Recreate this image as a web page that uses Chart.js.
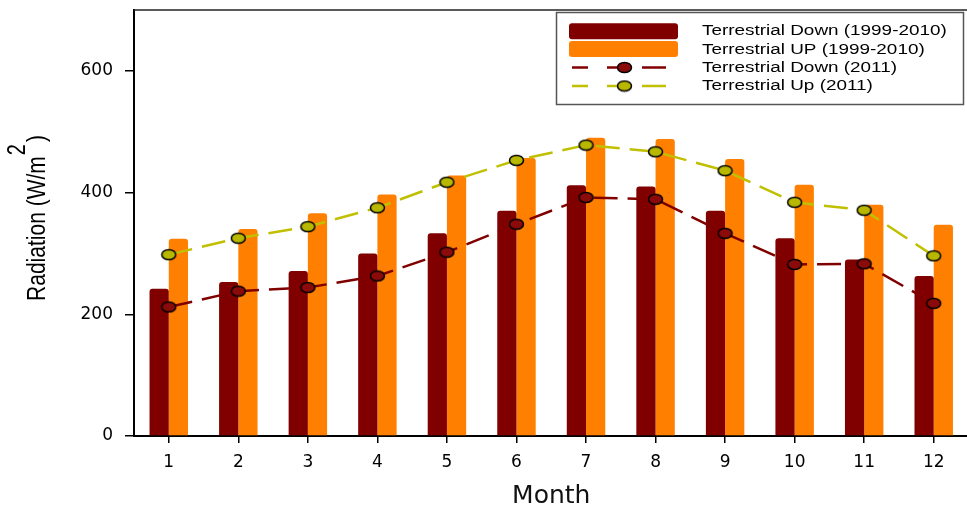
<!DOCTYPE html>
<html>
<head>
<meta charset="utf-8">
<title>Terrestrial radiation by month</title>
<script src="https://cdn.jsdelivr.net/npm/chart.js@4.4.1/dist/chart.umd.min.js"></script>
<style>
    html, body { margin: 0; padding: 0; background: #fff; overflow: hidden; }
    canvas { display: block; }
</style>
</head>
<body>
<canvas id="radiationChart" width="975" height="509"></canvas>
<script>
// Months on the x axis
const months = ['1', '2', '3', '4', '5', '6', '7', '8', '9', '10', '11', '12'];

// Monthly means 1999-2010 (bars)
const downMean = [242, 253, 271, 300, 333, 370, 412, 410, 370, 325, 290, 263];
const upMean = [324, 340, 366, 397, 428, 457, 490, 488, 455, 413, 380, 347];

// Year 2011 (dashed lines)
const down2011 = [212, 238, 244, 263, 302, 348, 392, 389, 333, 282, 283, 218];
const up2011 = [298, 325, 344, 375, 417, 453, 478, 467, 436, 384, 371, 296];

// Y axis ticks
const yTicks = [0, 200, 400, 600];

// Oval marker with black outline
function markerImage(fill) {
    const c = document.createElement('canvas');
    c.width = 17;
    c.height = 13;
    const g = c.getContext('2d');
    g.beginPath();
    g.ellipse(8.5, 6.5, 7, 5, 0, 0, Math.PI * 2);
    g.fillStyle = fill;
    g.fill();
    g.lineWidth = 1.5;
    g.strokeStyle = '#000';
    g.stroke();
    return c;
}

// Top frame line, y title and the boxed legend
const extras = {
    id: 'extras',
    afterDraw(chart) {
        const ctx = chart.ctx;
        const area = chart.chartArea;
        ctx.save();

        // top frame
        ctx.strokeStyle = '#222';
        ctx.lineWidth = 1.5;
        ctx.beginPath();
        ctx.moveTo(area.left, area.top);
        ctx.lineTo(chart.width, area.top);
        ctx.stroke();

        // y title with superscript
        const main = 'Radiation (W/m';
        ctx.save();
        ctx.translate(45, 218);
        ctx.rotate(-Math.PI / 2);
        ctx.scale(1, 1.25);
        ctx.fillStyle = '#000';
        ctx.textBaseline = 'alphabetic';
        ctx.font = '21px "Liberation Sans", Arial, sans-serif';
        const w1 = ctx.measureText(main).width;
        const w3 = ctx.measureText(')').width;
        ctx.font = '20px "Liberation Sans", Arial, sans-serif';
        const w2 = ctx.measureText('2').width + 3;
        let x = -(w1 + w2 + w3) / 2;
        ctx.font = '21px "Liberation Sans", Arial, sans-serif';
        ctx.fillText(main, x, 0);
        x += w1 + 1;
        ctx.font = '20px "Liberation Sans", Arial, sans-serif';
        ctx.fillText('2', x, -16);
        x += w2 - 1;
        ctx.font = '21px "Liberation Sans", Arial, sans-serif';
        ctx.fillText(')', x, 0);
        ctx.restore();

        // legend box
        ctx.fillStyle = '#fff';
        ctx.fillRect(556, 12, 407, 92);
        ctx.strokeStyle = '#555';
        ctx.lineWidth = 1.5;
        ctx.strokeRect(556.5, 12.5, 407, 92);

        const textRows = [31.5, 50, 68, 86.5];
        const symRows = [31.3, 49, 67.5, 86];
        chart.data.datasets.forEach((ds, i) => {
            const sy = symRows[i];
            if (ds.type === 'bar') {
                ctx.fillStyle = ds.backgroundColor;
                ctx.beginPath();
                ctx.roundRect(569, sy - 8, 109, 16, 3);
                ctx.fill();
            } else {
                ctx.strokeStyle = ds.borderColor;
                ctx.lineWidth = 2.5;
                ctx.beginPath();
                ctx.moveTo(572, sy); ctx.lineTo(588, sy);
                ctx.moveTo(607, sy); ctx.lineTo(624, sy);
                ctx.moveTo(642, sy); ctx.lineTo(666, sy);
                ctx.stroke();
                const img = ds.pointStyle;
                ctx.drawImage(img, 624.5 - img.width / 2, sy - img.height / 2);
            }
            ctx.save();
            ctx.translate(702, textRows[i]);
            ctx.scale(1.35, 1);
            ctx.fillStyle = '#000';
            ctx.font = '14px "Liberation Sans", Arial, sans-serif';
            ctx.textBaseline = 'middle';
            ctx.fillText(ds.label, 0, 0);
            ctx.restore();
        });

        ctx.restore();
    }
};

const ctx = document.getElementById('radiationChart').getContext('2d');
new Chart(ctx, {
    type: 'bar',
    data: {
        labels: months,
        datasets: [{
            type: 'bar',
            label: 'Terrestrial Down (1999-2010)',
            data: downMean,
            backgroundColor: '#800000',
            borderRadius: 3,
            categoryPercentage: 0.553,
            barPercentage: 1.0,
            order: 2
        }, {
            type: 'bar',
            label: 'Terrestrial UP (1999-2010)',
            data: upMean,
            backgroundColor: '#ff8000',
            borderRadius: 3,
            categoryPercentage: 0.553,
            barPercentage: 1.0,
            order: 2
        }, {
            type: 'line',
            label: 'Terrestrial Down (2011)',
            data: down2011,
            borderColor: '#800000',
            borderWidth: 2.5,
            borderDash: [24, 10],
            pointStyle: markerImage('#8b0a0a'),
            tension: 0,
            fill: false,
            order: 1
        }, {
            type: 'line',
            label: 'Terrestrial Up (2011)',
            data: up2011,
            borderColor: '#c0c000',
            borderWidth: 2.5,
            borderDash: [24, 10],
            pointStyle: markerImage('#b8b800'),
            tension: 0,
            fill: false,
            order: 1
        }]
    },
    options: {
        responsive: false,
        animation: false,
        events: [],
        layout: {
            padding: { top: 10, right: 1, left: 0, bottom: 0 }
        },
        plugins: {
            legend: { display: false },
            tooltip: { enabled: false }
        },
        scales: {
            x: {
                type: 'category',
                offset: true,
                grid: {
                    offset: false,
                    drawOnChartArea: false,
                    tickLength: 7,
                    color: '#000',
                    lineWidth: 1.5
                },
                border: { color: '#000', width: 2 },
                ticks: {
                    color: '#000',
                    padding: 9,
                    font: { family: 'DejaVu Sans', size: 17 }
                },
                title: {
                    display: true,
                    text: 'Month',
                    color: '#111',
                    padding: { top: 0, bottom: 0 },
                    font: { family: 'DejaVu Sans', size: 25, lineHeight: 1 }
                },
                afterFit: function(scale) {
                    scale.height = 73;
                    scale.paddingLeft = 0;
                    scale.paddingRight = 0;
                }
            },
            y: {
                min: 0,
                max: 700,
                grid: {
                    drawOnChartArea: false,
                    tickLength: 9,
                    color: '#000',
                    lineWidth: 1.5
                },
                border: { color: '#000', width: 2 },
                ticks: {
                    color: '#000',
                    padding: 12,
                    font: { family: 'DejaVu Sans', size: 17 }
                },
                afterBuildTicks: function(scale) {
                    scale.ticks = yTicks.map(v => ({ value: v }));
                },
                afterFit: function(scale) {
                    scale.width = 134;
                    scale.paddingTop = 0;
                    scale.paddingBottom = 0;
                }
            }
        }
    },
    plugins: [extras]
});
</script>
</body>
</html>
